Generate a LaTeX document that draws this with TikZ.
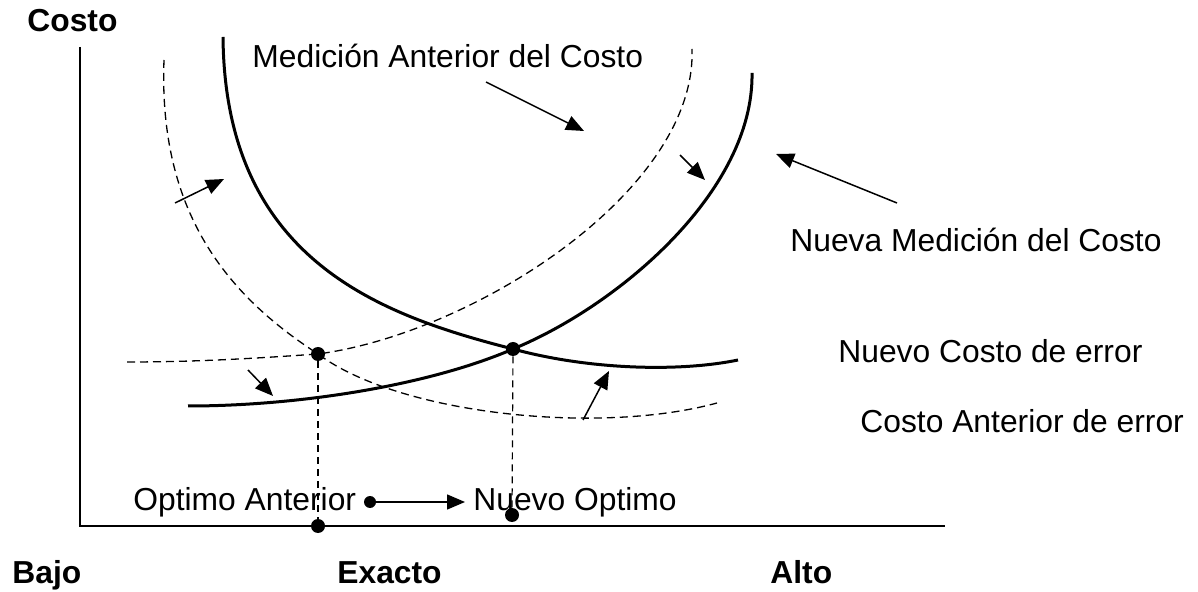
\documentclass[tikz,border=0pt]{standalone}
\usepackage{fontspec}
\setmainfont{Liberation Sans}
\usetikzlibrary{arrows.meta, positioning}

\tikzset{
  lbl/.style = {anchor=base west, inner sep=0pt, font=\fontsize{15.9}{18}\selectfont},
  axlbl/.style = {lbl, font=\fontsize{15.9}{18}\selectfont\bfseries},
  thick curve/.style = {line width=1.5pt},
  old curve/.style = {line width=0.65pt, dash pattern=on 4pt off 2.5pt},
  guide/.style = {line width=0.6pt, dash pattern=on 3.5pt off 2.5pt},
  arr/.style = {line width=0.75pt, -{Triangle[length=9pt, width=7.5pt]}},
  dot/.style = {circle, fill, inner sep=0pt, minimum size=7pt}
}

\begin{document}
\begin{tikzpicture}[x=0.5pt, y=-0.5pt]
  \useasboundingbox (0,0) rectangle (1198,592);

  \draw[line width=0.75pt] (80,47) -- (80,526) -- (945,526);

  \node[axlbl] (costo) at (27,32) {Costo};
  \node[axlbl] (bajo) at (12,583) {Bajo};
  \node[axlbl] (exacto) at (337,583) {Exacto};
  \node[axlbl] (alto) at (770,583) {Alto};

  \node[dot] (optold) at (318,354) {};
  \node[dot] (optnew) at (513,349) {};

  \draw[old curve] (164,60) .. controls (158,220) and (235,300) .. (optold.center)
    .. controls (400,415) and (600,435) .. (717,403);
  \draw[thick curve] (223,37) .. controls (225,260) and (380,315) .. (optnew.center)
    .. controls (590,370) and (680,372) .. (738,360);
  \draw[old curve] (127,362) .. controls (200,362) and (260,358) .. (optold.center)
    .. controls (475,333) and (697,190) .. (692,49);
  \draw[thick curve] (188,406) .. controls (300,406) and (430,385) .. (optnew.center)
    .. controls (620,305) and (754,190) .. (752,73);

  \node[lbl] (medant) at (252,68) {Medición Anterior del Costo};
  \node[lbl] (nuevamed) at (790,252) {Nueva Medición del Costo};
  \node[lbl] (nuevoerr) at (838,363) {Nuevo Costo de error};
  \node[lbl] (anterr) at (860,433) {Costo Anterior de error};
  \node[lbl] (optant) at (133,510) {Optimo Anterior};
  \node[lbl] (optnuevo) at (473,510) {Nuevo Optimo};

  \node[dot] (axold) at (318,526) {};
  \node[dot] (axnew) at (512,515) {};
  \draw[guide] (optold) -- (axold);
  \draw[guide] (optnew) -- (axnew);

  \node[dot, minimum size=6pt] (mover) at (370,502) {};
  \coordinate (moverend) at (465,502);
  \draw[arr] (mover) -- (moverend);

  \coordinate (a1s) at (175,203); \coordinate (a1e) at (224,179);
  \coordinate (a2s) at (486,82);  \coordinate (a2e) at (584,131);
  \coordinate (a3s) at (680,155); \coordinate (a3e) at (705,180);
  \coordinate (a4s) at (897,203); \coordinate (a4e) at (776,154);
  \coordinate (a5s) at (248,370); \coordinate (a5e) at (273,396);
  \coordinate (a6s) at (583,420); \coordinate (a6e) at (609,371);
  \draw[arr] (a1s) -- (a1e);
  \draw[arr] (a2s) -- (a2e);
  \draw[arr] (a3s) -- (a3e);
  \draw[arr] (a4s) -- (a4e);
  \draw[arr] (a5s) -- (a5e);
  \draw[arr] (a6s) -- (a6e);
\end{tikzpicture}
\end{document}
